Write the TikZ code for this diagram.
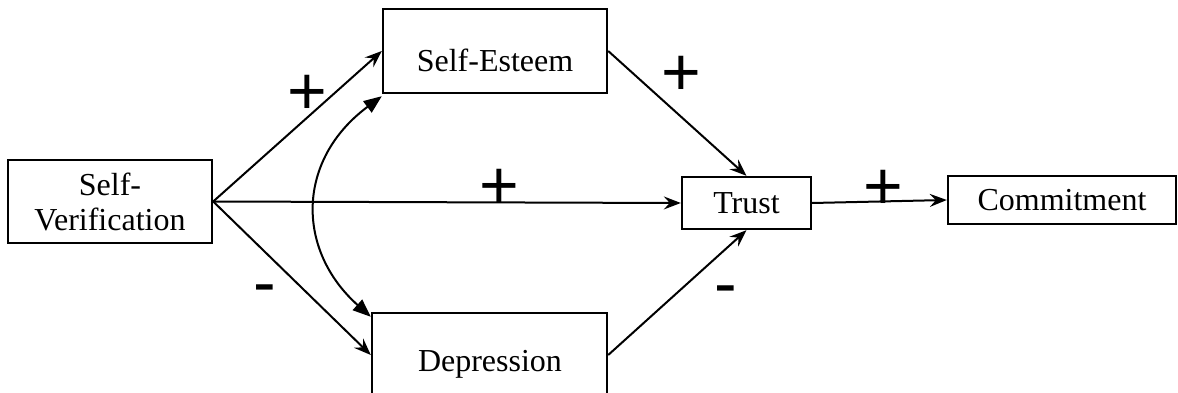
\documentclass[tikz,border=0pt]{standalone}
\usepackage{fontspec}
\setmainfont{Liberation Serif}
\newfontfamily\signfont{Liberation Sans}
\usetikzlibrary{arrows.meta,calc}
\tikzset{
  box/.style={draw, line width=2.4pt, rectangle, inner sep=0pt, font=\fontsize{32}{35}\selectfont, align=center},
  boxtext/.style={inner sep=0pt, anchor=base, font=\fontsize{32}{35}\selectfont},
  path/.style={line width=2pt, -{Stealth[length=17pt,width=13pt,inset=6pt]}},
  corr/.style={line width=2pt, {Triangle[length=18pt,width=14pt]}-{Triangle[length=18pt,width=14pt]}},
  sign/.style={inner sep=0pt, anchor=base, font=\signfont\fontsize{68}{70}\selectfont}
}
\begin{document}
\begin{tikzpicture}[x=1pt,y=-1pt]
\useasboundingbox (0,0) rectangle (1178,393);
\node[box, minimum width=204pt, minimum height=83pt] (sv) at (110,201.5) {Self-\\Verification};
\node[box, minimum width=224pt, minimum height=84pt] (se) at (495,51) {};
\node[boxtext] (setext) at (495,72) {Self-Esteem};
\node[box, minimum width=235pt, minimum height=84pt] (dep) at (489.5,355) {};
\node[boxtext] (deptext) at (490,371) {Depression};
\node[box, minimum width=129pt, minimum height=52pt] (tr) at (746.5,203) {Trust};
\node[box, minimum width=228pt, minimum height=48pt] (cm) at (1062,200) {Commitment};

\draw[path] (sv.east) -- (se.west);
\draw[path] (sv.east) -- (dep.west);
\draw[path] (sv.east) -- (tr.west);
\draw[path] (se.east) -- (tr.north);
\draw[path] (dep.east) -- (tr.south);
\draw[path] (tr.east) -- (cm.west);
\coordinate (c1) at ([yshift=-2pt]se.south west);
\coordinate (c2) at ([yshift=-5pt]dep.north west);
\draw[corr] (c1) .. controls (296,160) and (296,250) .. (c2);

\node[sign] (p1) at (307,115) {+};
\node[sign] (p2) at (499,208) {+};
\node[sign] (p3) at (681,96) {+};
\node[sign] (p4) at (883,209) {+};
\node[sign] (m1) at (265,305) {-};
\node[sign] (m2) at (726,306) {-};
\end{tikzpicture}
\end{document}
